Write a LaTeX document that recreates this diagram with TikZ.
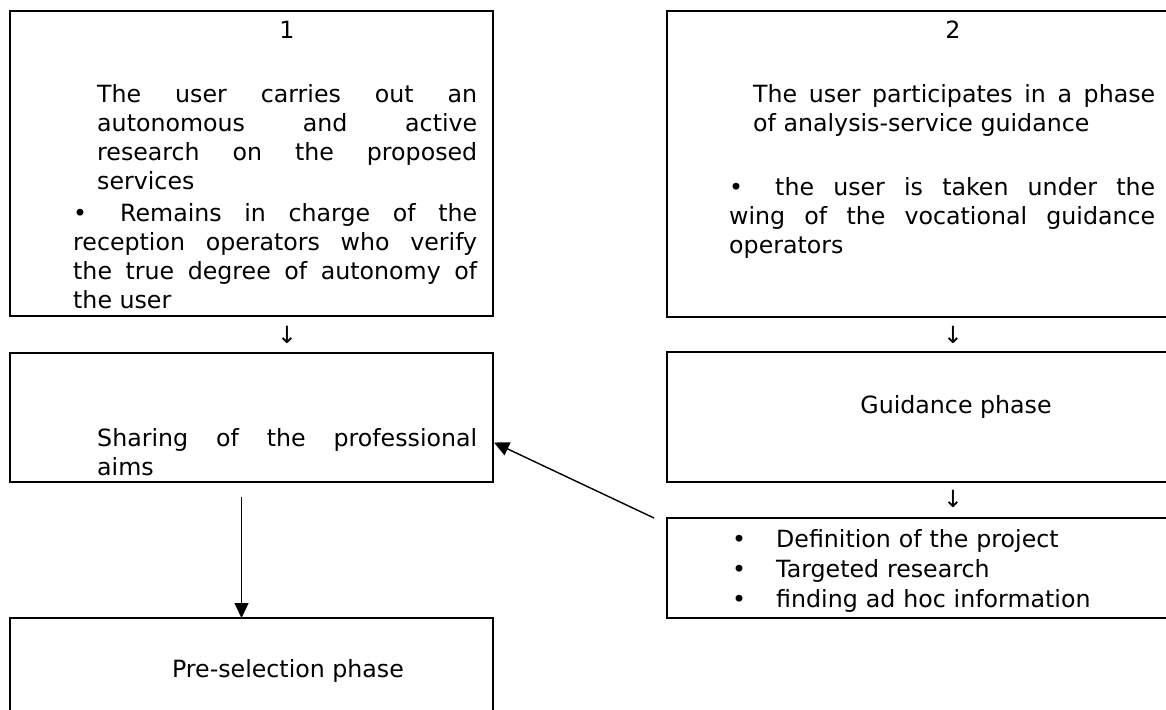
\documentclass[tikz,border=0pt]{standalone}
\usepackage{fontspec}
\setmainfont{DejaVu Sans}
\usetikzlibrary{arrows.meta}
\tolerance=10000
\hbadness=10000
\begin{document}
\begin{tikzpicture}[x=1pt,y=-1pt,
  box/.style={draw,line width=1.4pt,inner sep=0pt,outer sep=0pt,anchor=north west},
  txt/.style={inner sep=0pt,anchor=base west,align=justify,
    font=\fontsize{23.7}{29}\selectfont},
  lbl/.style={inner sep=0pt,anchor=base,font=\fontsize{23.7}{29}\selectfont},
  link/.style={line width=1.4pt,-{Triangle[length=15pt,width=14pt]}}]
\useasboundingbox (0,0) rectangle (1166,709);
\node[box,minimum width=483pt,minimum height=305pt] (b1) at (10,11) {};
\node[box,minimum width=508pt,minimum height=306pt] (b2) at (667,11) {};
\node[box,minimum width=483pt,minimum height=129pt] (b3) at (10,353) {};
\node[box,minimum width=508pt,minimum height=130pt] (b4) at (667,352) {};
\node[box,minimum width=483pt,minimum height=110pt] (b5) at (10,618) {};
\node[box,minimum width=508pt,minimum height=100pt] (b6) at (667,518) {};
\node[lbl] (n1) at (287,38) {1};
\node[lbl] (n2) at (953,38) {2};
\node[txt,text width=380pt] (t1a) at (97,102)
  {The user carries out an\linebreak autonomous and active\linebreak research on the proposed\linebreak services};
\node[txt,text width=404pt] (t1b) at (73,221)
  {\makebox[47pt][l]{•}Remains in charge of the\linebreak reception operators who verify\linebreak the true degree of autonomy of\linebreak the user};
\node[txt,text width=402pt] (t2a) at (753,102)
  {The user participates in a phase\linebreak of analysis-service guidance};
\node[txt,text width=426pt] (t2b) at (729,195)
  {\makebox[46pt][l]{•}the user is taken under the\linebreak wing of the vocational guidance\linebreak operators};
\node[lbl] (d1) at (287,343) {↓};
\node[lbl] (d2) at (953,343) {↓};
\node[lbl] (d3) at (953,507) {↓};
\node[txt,text width=380pt] (t3) at (97,446)
  {Sharing of the professional\linebreak aims};
\node[lbl] (t4) at (956,413) {Guidance phase};
\node[lbl] (t5) at (288,677) {Pre-selection phase};
\node[txt,text width=420pt,align=left,font=\fontsize{23.7}{30}\selectfont] (t6) at (732,547)
  {\makebox[44pt][l]{•}Definition of the project\\
   \makebox[44pt][l]{•}Targeted research\\
   \makebox[44pt][l]{•}finding ad hoc information};
\draw[link] ([xshift=-10pt,yshift=-15pt]b3.south) -- ([xshift=-10pt]b5.north);
\draw[link] ([xshift=-13pt]b6.north west) -- ([xshift=1pt,yshift=-25pt]b3.east);
\end{tikzpicture}
\end{document}
